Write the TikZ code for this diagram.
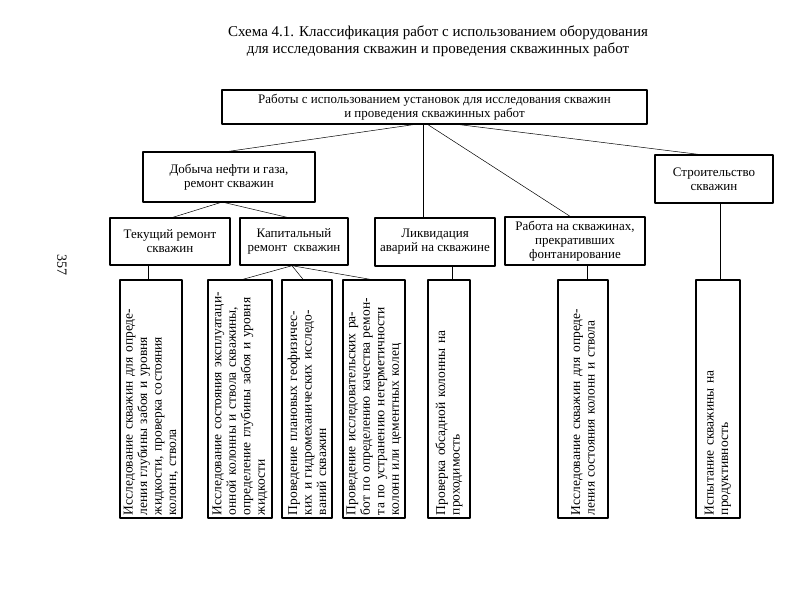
\documentclass[tikz,border=0pt]{standalone}
\usepackage{fontspec}
\setmainfont{Liberation Serif}
\tikzset{
  box/.style={draw, line width=1.4pt, align=center, inner sep=2pt},
  vbox/.style={box, rotate=90, minimum width=238, text width=232, align=left, inner sep=3pt,
    font=\fontsize{13.5}{14.5}\selectfont},
  link/.style={line width=0.5pt}
}
\begin{document}
\begin{tikzpicture}[x=1pt, y=-1pt, font=\fontsize{13}{14}\selectfont, line join=round]
				\useasboundingbox (0,0) rectangle (792,597);
				\def\yb{399}
				% title and page number
				\node[align=center, font=\fontsize{15}{17}\selectfont] (title) at (438,41)
				{Схема 4.1. Классификация работ с использованием оборудования\\
				 для исследования скважин и проведения скважинных работ};
				\node[rotate=-90, font=\fontsize{14}{16}\selectfont] (page) at (62,265) {357};
				
				% upper levels
				\node[box, minimum width=425, minimum height=34] (top) at (434.5,107)
				{Работы с использованием установок для исследования скважин\\
				 и проведения скважинных работ};
				\node[box, minimum width=172, minimum height=50] (prod) at (229,177)
				{Добыча нефти и газа,\\ ремонт скважин};
				\node[box, minimum width=118, minimum height=48] (build) at (714,179)
				{Строительство\\ скважин};
				\node[box, minimum width=120, minimum height=47] (cur) at (170,241.5)
				{Текущий ремонт\\ скважин};
				\node[box, minimum width=108, minimum height=47] (cap) at (294,241.5)
				{Капитальный\\ ремонт~~скважин};
				\node[box, minimum width=120, minimum height=48] (liq) at (435,242)
				{Ликвидация\\ аварий на скважине};
				\node[box, minimum width=140, minimum height=48] (stop) at (575,241)
				{Работа на скважинах,\\ прекративших\\ фонтанирование};
				
				% lower level
				\node[vbox, minimum height=62] (b1) at (151,\yb)
				{Исследование скважин для опреде-\\ления глубины забоя и уровня\\жидкости, проверка состояния\\колонн, ствола};
				\node[vbox, minimum height=64] (b2) at (240,\yb)
				{Исследование состояния эксплуатаци-\\онной колонны и ствола скважины,\\определение глубины забоя и уровня\\жидкости};
				\node[vbox, minimum height=50] (b3) at (307,\yb)
				{Проведение плановых геофизичес-\\ких и гидромеханических исследо-\\ваний скважин};
				\node[vbox, minimum height=62] (b4) at (374,\yb)
				{Проведение исследовательских ра-\\бот по определению качества ремон-\\та по устранению негерметичности\\колонн или цементных колец};
				\node[vbox, minimum height=42] (b5) at (449,\yb)
				{Проверка обсадной колонны на\\проходимость};
				\node[vbox, minimum height=50] (b6) at (583,\yb)
				{Исследование скважин для опреде-\\ления состояния колонн и ствола};
				\node[vbox, minimum height=44] (b7) at (718,\yb)
				{Испытание скважины на\\продуктивность};
				
				% connectors
				\draw[link] ([xshift=-21.5]top.south) -- (prod.north);
				\draw[link] ([xshift=-12]liq.north) -- ([xshift=-12]liq.north |- top.south);
				\draw[link] ([xshift=-6.5]top.south) -- ([xshift=-5]stop.north);
				\draw[link] ([xshift=25.5]top.south) -- ([xshift=-16]build.north);
				\draw[link] ([xshift=-9]prod.south) -- ([xshift=3]cur.north);
				\draw[link] ([xshift=-4]prod.south) -- ([xshift=-7]cap.north);
				\draw[link] ([xshift=-22]cur.south) -- ([xshift=-22]cur.south |- b1.east);
				\draw[link] ([xshift=-2]cap.south) -- ([xshift=3]b2.east);
				\draw[link] ([xshift=-2]cap.south) -- ([xshift=-4]b3.east);
				\draw[link] ([xshift=-2]cap.south) -- ([xshift=-4]b4.east);
				\draw[link] ([xshift=17]liq.south) -- ([xshift=17]liq.south |- b5.east);
				\draw[link] ([xshift=12]stop.south) -- ([xshift=12]stop.south |- b6.east);
				\draw[link] ([xshift=6]build.south) -- ([xshift=6]build.south |- b7.east);
\end{tikzpicture}
\end{document}
